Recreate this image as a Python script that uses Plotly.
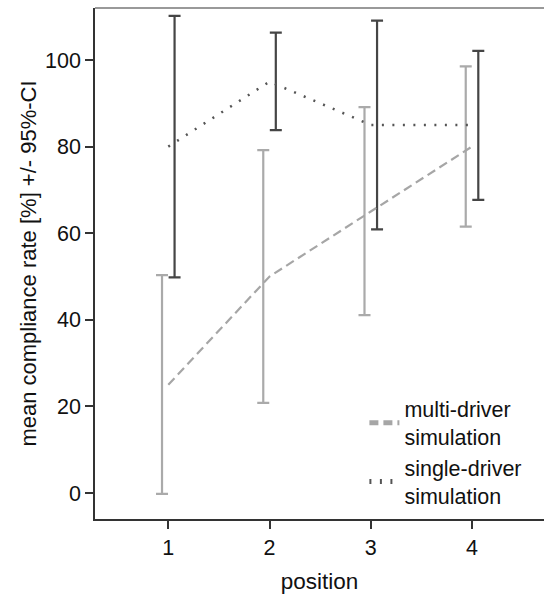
import plotly.graph_objects as go

positions = [1, 2, 3, 4]
multi_mean = [25, 50, 65, 80]
multi_upper = [50.3, 79.2, 89.1, 98.5]
multi_lower = [-0.2, 20.8, 41.1, 61.5]
single_mean = [80, 95, 85, 85]
single_upper = [110.2, 106.3, 109.1, 102.1]
single_lower = [49.8, 83.8, 60.9, 67.7]
y_ticks = [0, 20, 40, 60, 80, 100]

OFF = 0.062
FONT = "Liberation Sans, Arial, sans-serif"
LIGHT = "#aaaaaa"
DARK = "#454545"

fig = go.Figure()

# error bars
fig.add_trace(go.Scatter(
    x=[p - OFF for p in positions], y=multi_mean, mode="markers",
    marker=dict(size=1, opacity=0), showlegend=False, hoverinfo="skip",
    error_y=dict(type="data", symmetric=False,
                 array=[u - m for u, m in zip(multi_upper, multi_mean)],
                 arrayminus=[m - l for m, l in zip(multi_mean, multi_lower)],
                 color=LIGHT, thickness=2.2, width=6),
))
fig.add_trace(go.Scatter(
    x=[p + OFF for p in positions], y=single_mean, mode="markers",
    marker=dict(size=1, opacity=0), showlegend=False, hoverinfo="skip",
    error_y=dict(type="data", symmetric=False,
                 array=[u - m for u, m in zip(single_upper, single_mean)],
                 arrayminus=[m - l for m, l in zip(single_mean, single_lower)],
                 color=DARK, thickness=2.2, width=6),
))

# mean lines
fig.add_trace(go.Scatter(
    x=positions, y=multi_mean, mode="lines", name="multi-driver<br>simulation",
    line=dict(color="#a6a6a6", width=2.2, dash="9px,5px"),
))
fig.add_trace(go.Scatter(
    x=positions, y=single_mean, mode="lines", name="single-driver<br>simulation",
    line=dict(color="#555555", width=2.5, dash="2px,8.5px"),
))

fig.add_shape(type="line", xref="paper", yref="paper", x0=0, x1=1, y0=1, y1=1,
              line=dict(color="#999999", width=2))

fig.update_layout(
    width=544, height=594,
    margin=dict(l=95, r=0, t=8, b=75),
    plot_bgcolor="white", paper_bgcolor="white",
    font=dict(family=FONT, size=21, color="#111111"),
    showlegend=True,
    legend=dict(x=0.60, y=0.256, xanchor="left", yanchor="top",
                bgcolor="rgba(0,0,0,0)", font=dict(size=21.5),
                itemwidth=30, tracegroupgap=0, itemsizing="constant"),
    xaxis=dict(range=[0.276, 4.711], tickvals=positions,
               showline=True, linecolor="#333333", linewidth=1.5,
               ticks="outside", ticklen=8, tickcolor="#333333", tickwidth=1.5,
               showgrid=False, zeroline=False, tickfont=dict(size=21.5),
               title=dict(text="position", standoff=18, font=dict(size=22.5))),
    yaxis=dict(range=[-6, 112], tickvals=y_ticks,
               showline=True, linecolor="#333333", linewidth=1.5,
               ticks="outside", ticklen=8, tickcolor="#333333", tickwidth=1.5,
               showgrid=False, zeroline=False, tickfont=dict(size=21.5),
               title=dict(text="mean compliance rate [%] +/- 95%-CI", standoff=2,
                          font=dict(size=22))),
)

fig.write_html("out.html", config={"displayModeBar": False},
               post_script="document.body.style.margin='0';")
